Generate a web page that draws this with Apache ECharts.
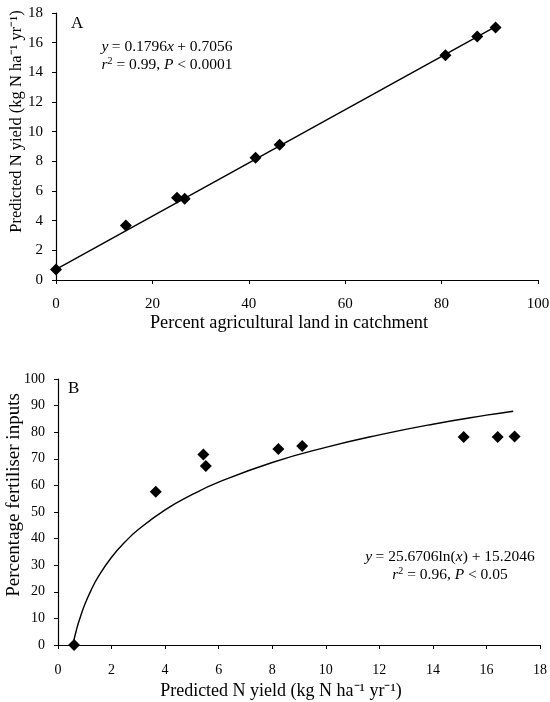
<!DOCTYPE html>
<html>
<head>
<meta charset="utf-8">
<script src="https://cdn.jsdelivr.net/npm/echarts@6/dist/echarts.min.js"></script>
<style>
  html, body { margin: 0; padding: 0; background: #fff; }
  #chart { width: 550px; height: 702px; }
</style>
</head>
<body>
<div id="chart"></div>
<script>
// panel A: % agricultural land vs predicted N yield
var aPercent = [0, 14.5, 25.1, 26.7, 41.4, 46.4, 80.8, 87.4, 91.2];
var aYield = [0.7, 3.68, 5.55, 5.48, 8.25, 9.12, 15.15, 16.42, 17.03];
var aFitX = [0, 91.2];
var aFitY = [0.71, 17.08];

// panel B: predicted N yield vs % fertiliser inputs
var bYield = [0.6, 3.65, 5.43, 5.52, 8.23, 9.12, 15.15, 16.42, 17.05];
var bFert = [0, 57.6, 71.6, 67.3, 73.7, 74.8, 78.2, 78.2, 78.4];
var bCurveX = [0.55, 0.7, 0.8, 1, 1.25, 1.5, 2, 2.5, 3, 4, 5, 6, 8, 10, 12, 14, 16, 17];
var bCurveY = [0, 6.1, 9.5, 15.2, 20.9, 25.6, 33.0, 38.7, 43.4, 50.8, 56.5, 61.2, 68.6, 74.3, 79.0, 83.0, 86.4, 87.9];

var aTicksX = [0, 100, 20];
var aTicksY = [0, 18, 2];
var bTicksX = [0, 18, 2];
var bTicksY = [0, 100, 10];

function zip(xs, ys) {
  return xs.map(function (x, i) { return [x, ys[i]]; });
}

var serif = 'Liberation Serif';
var black = '#000';

// s = [labelSize, labelMargin, nameSize, nameGap, namePadding]
function axis(idx, ticks, name, s) {
  return {
    type: 'value',
    gridIndex: idx,
    min: ticks[0],
    max: ticks[1],
    interval: ticks[2],
    name: name,
    nameLocation: 'middle',
    nameGap: s[3],
    nameMoveOverlap: false,
    nameTextStyle: { fontFamily: serif, fontSize: s[2], color: black, padding: s[4] },
    axisLine: { show: true, onZero: false, lineStyle: { color: black, width: 1.2 } },
    axisTick: { show: true, length: 4, lineStyle: { color: black } },
    axisLabel: { fontFamily: serif, fontSize: s[0], color: black, margin: s[1] },
    splitLine: { show: false }
  };
}

var rich = {
  i: { fontFamily: serif, fontSize: 15.5, fontStyle: 'italic', color: black },
  n: { fontFamily: serif, fontSize: 15.5, color: black },
  s: { fontFamily: serif, fontSize: 10, color: black, verticalAlign: 'top', padding: [0, 0, 6, 0] }
};

var myChart = echarts.init(document.getElementById('chart'));

var option = {
  backgroundColor: '#fff',
  animation: false,
  grid: [
    { left: 56, right: 12, top: 13, height: 267, containLabel: false, outerBoundsMode: 'none' },
    { left: 58, right: 10, top: 379, height: 266, containLabel: false, outerBoundsMode: 'none' }
  ],
  xAxis: [
    axis(0, aTicksX, 'Percent agricultural land in catchment', [15, 17, 18.3, 34, [0, 16, 0, 0]]),
    axis(1, bTicksX, 'Predicted N yield (kg N ha\u207B\u00B9 yr\u207B\u00B9)', [14, 18, 18, 37, [0, 36, 0, 0]])
  ],
  yAxis: [
    axis(0, aTicksY, 'Predicted N yield (kg N ha\u207B\u00B9 yr\u207B\u00B9)', [15, 13, 16.5, 31, [0, 0, 0, 50]]),
    axis(1, bTicksY, 'Percentage fertiliser inputs', [14, 13, 19, 34, [0, 0, 0, 34]])
  ],
  series: [
    {
      type: 'line',
      xAxisIndex: 0, yAxisIndex: 0,
      data: zip(aFitX, aFitY),
      showSymbol: false,
      lineStyle: { color: black, width: 1.4 }
    },
    {
      type: 'scatter',
      xAxisIndex: 0, yAxisIndex: 0,
      data: zip(aPercent, aYield),
      symbol: 'diamond',
      symbolSize: 12,
      itemStyle: { color: black, opacity: 1 }
    },
    {
      type: 'line',
      xAxisIndex: 1, yAxisIndex: 1,
      data: zip(bCurveX, bCurveY),
      smooth: true,
      showSymbol: false,
      lineStyle: { color: black, width: 1.4 }
    },
    {
      type: 'scatter',
      xAxisIndex: 1, yAxisIndex: 1,
      data: zip(bYield, bFert),
      symbol: 'diamond',
      symbolSize: 12,
      itemStyle: { color: black, opacity: 1 }
    }
  ],
  graphic: [
    { type: 'text', x: 71, y: 15, style: { text: 'A', font: '17px "Liberation Serif"', fill: black } },
    {
      type: 'text', x: 167, y: 38,
      style: {
        text: '{i|y} {n|= 0.1796}{i|x} {n|+ 0.7056}\n{i|r}{s|2}{n| = 0.99, }{i|P}{n| < 0.0001}',
        rich: rich, lineHeight: 18, align: 'center'
      }
    },
    { type: 'text', x: 68, y: 380, style: { text: 'B', font: '17px "Liberation Serif"', fill: black } },
    {
      type: 'text', x: 450, y: 548,
      style: {
        text: '{i|y} {n|= 25.6706ln(}{i|x}{n|) + 15.2046}\n{i|r}{s|2}{n| = 0.96, }{i|P}{n| < 0.05}',
        rich: rich, lineHeight: 18, align: 'center'
      }
    }
  ]
};

myChart.setOption(option);
</script>
</body>
</html>
